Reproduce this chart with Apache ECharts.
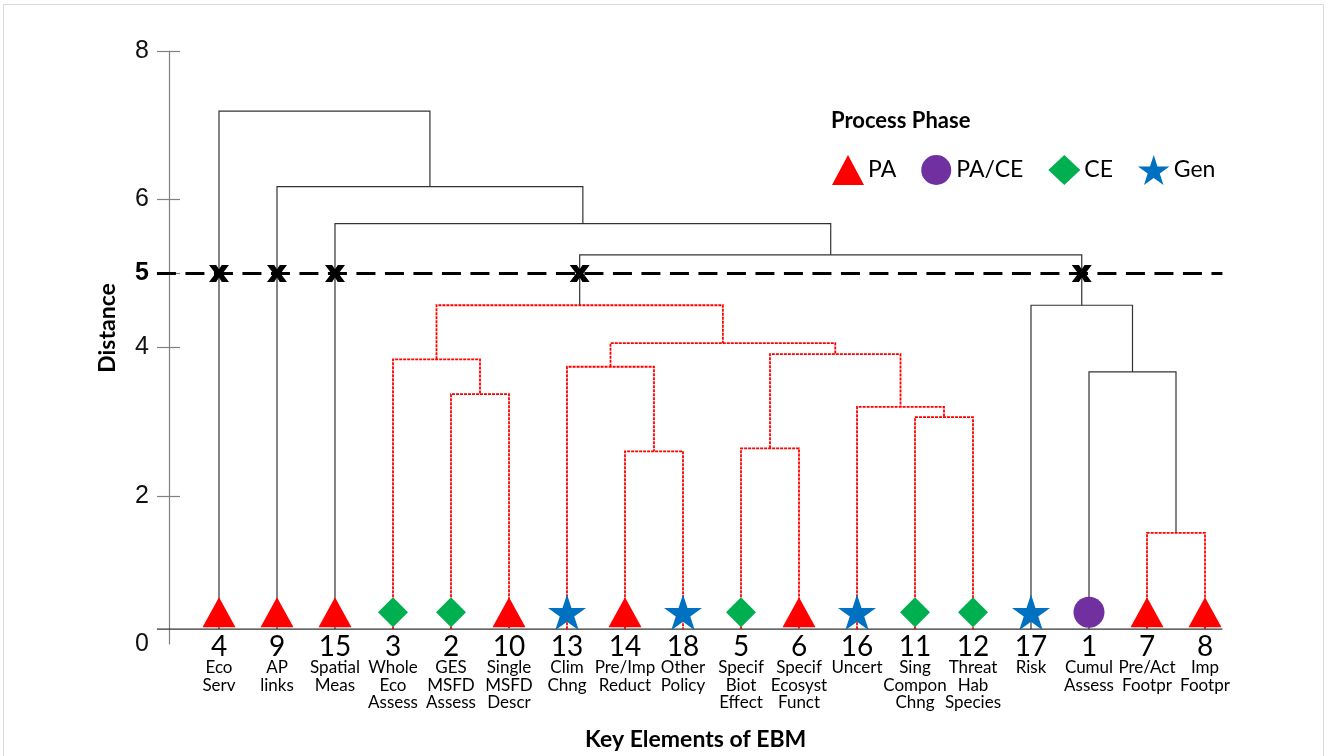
<!DOCTYPE html>
<html>
<head>
<meta charset="utf-8">
<script src="https://cdn.jsdelivr.net/npm/echarts@6/dist/echarts.min.js"></script>
<style>
  html, body { margin: 0; padding: 0; background: #fff; }
  #chart { width: 1328px; height: 756px; }
</style>
</head>
<body>
<div id="chart"></div>
<script>
// Leaves, left to right as they sit on the axis
const leafIds = [4, 9, 15, 3, 2, 10, 13, 14, 18, 5, 6, 16, 11, 12, 17, 1, 7, 8];
const leafNames = ['Eco\nServ', 'AP\nlinks', 'Spatial\nMeas', 'Whole\nEco\nAssess', 'GES\nMSFD\nAssess',
  'Single\nMSFD\nDescr', 'Clim\nChng', 'Pre/Imp\nReduct', 'Other\nPolicy', 'Specif\nBiot\nEffect',
  'Specif\nEcosyst\nFunct', 'Uncert', 'Sing\nCompon\nChng', 'Threat\nHab\nSpecies', 'Risk',
  'Cumul\nAssess', 'Pre/Act\nFootpr', 'Imp\nFootpr'];
const leafPhases = ['PA', 'PA', 'PA', 'CE', 'CE', 'PA', 'Gen', 'PA', 'Gen', 'CE', 'PA', 'Gen', 'CE', 'CE',
  'Gen', 'PA/CE', 'PA', 'PA'];

// Linkage table: children are leaf numbers or merge names
const mergeNames = ['A', 'B', 'C', 'D', 'E', 'F', 'G', 'H', 'I', 'J', 'K', 'L', 'M', 'N', 'O', 'P', 'Q'];
const mergeLeft = [7, 1, 17, 2, 3, 14, 13, 5, 11, 16, 'H', 'G', 'E', 'M', 15, 9, 4];
const mergeRight = [8, 'A', 'B', 10, 'D', 18, 'F', 6, 12, 'I', 'J', 'K', 'L', 'C', 'N', 'O', 'P'];
const mergeHeights = [1.50, 3.67, 4.57, 3.37, 3.84, 2.60, 3.74, 2.64, 3.06, 3.20, 3.91, 4.06, 4.57, 5.25, 5.67, 6.17, 7.19];
const mergeRed = [true, false, false, true, true, true, true, true, true, true, true, true, true, false, false, false, false];

const phases = ['PA', 'PA/CE', 'CE', 'Gen'];
const phaseColors = ['#ff0000', '#7030a0', '#00b050', '#0070c0'];
const starPath = 'path://M50,0 L61.2,34.5 L97.6,34.5 L68.2,55.9 L79.4,90.5 L50,69.1 L20.6,90.5 L31.8,55.9 L2.4,34.5 L38.8,34.5 Z';
const phaseSymbols = ['triangle', 'circle', 'diamond', starPath];
const phaseSizes = [[33, 30], 31, [30, 30], [38, 36]];

const leafHeight = 0.2;   // baseline the leaves hang from
const cutHeight = 5;
const yLabelValues = [0, 2, 4, 5, 6, 8];
const yTickValues = [2, 4, 5, 6, 8];
const xMin = 0.138, xMax = 18.3, xLeftEdge = -0.07;

// positions of every node
const nodes = {};
leafIds.forEach((id, i) => { nodes[id] = { x: i + 1, h: leafHeight }; });
mergeNames.forEach((name, i) => {
  const l = nodes[mergeLeft[i]], r = nodes[mergeRight[i]];
  nodes[name] = { x: (l.x + r.x) / 2, h: mergeHeights[i] };
});

const black = { color: '#333333', width: 1.2, opacity: 1 };
const red = { color: '#ff0000', width: 1.8, type: [3, 1], opacity: 1 };

const linkData = mergeNames.map((name, i) => {
  const l = nodes[mergeLeft[i]], r = nodes[mergeRight[i]], h = mergeHeights[i];
  return {
    coords: [[l.x, l.h], [l.x, h], [r.x, h], [r.x, r.h]],
    lineStyle: mergeRed[i] ? red : black
  };
});

// crossings of the cut line
const cutMarks = [];
mergeNames.forEach((name, i) => {
  [mergeLeft[i], mergeRight[i]].forEach(c => {
    if (nodes[c].h < cutHeight && mergeHeights[i] > cutHeight) cutMarks.push([nodes[c].x, cutHeight]);
  });
});

const markerSeries = phases.map((p, k) => ({
  name: p,
  type: 'scatter',
  symbol: phaseSymbols[k],
  symbolSize: phaseSizes[k],
  symbolOffset: [0, -17],
  itemStyle: { color: phaseColors[k], opacity: 1 },
  z: 5,
  data: leafIds.map((id, i) => leafPhases[i] === p ? [i + 1, leafHeight] : null).filter(d => d)
}));

const chart = echarts.init(document.getElementById('chart'));
const labelFont = 'Lato, "Open Sans", sans-serif';

chart.setOption({
  animation: false,
  backgroundColor: '#fff',
  grid: { left: 169, right: 105.6, top: 51, bottom: 112 },
  title: {
    text: 'Process Phase', left: 826, top: 105,
    textStyle: { fontFamily: labelFont, fontWeight: 'bold', fontSize: 22, color: '#000' }
  },
  legend: {
    data: phases, left: 827, top: 150, itemWidth: 32, itemHeight: 30, itemGap: 25,
    textStyle: { fontFamily: labelFont, fontSize: 23, color: '#000', padding: [0, 0, 0, -1] }
  },
  graphic: [
    {
      type: 'text', x: 108, y: 328, rotation: Math.PI / 2,
      style: { text: 'Distance', align: 'center', verticalAlign: 'middle',
        font: 'bold 23px Lato, "Open Sans", sans-serif', fill: '#000' }
    },
    {
      type: 'rect', silent: true, z: -1,
      shape: { x: 3.5, y: 4.5, width: 1320, height: 800 },
      style: { fill: 'none', stroke: '#d9d9d9', lineWidth: 1 }
    }
  ],
  xAxis: {
    type: 'value', min: xMin, max: xMax,
    name: 'Key Elements of EBM', nameLocation: 'middle', nameGap: 84,
    nameTextStyle: { fontFamily: labelFont, fontWeight: 'bold', fontSize: 23, color: '#000' },
    axisLine: { show: false }, axisTick: { show: false }, splitLine: { show: false },
    axisLabel: {
      customValues: leafIds.map((id, i) => i + 1),
      margin: -10,
      formatter: v => {
        const i = Math.round(v) - 1;
        return '{n|' + leafIds[i] + '}\n' + leafNames[i].split('\n').map(s => '{t|' + s + '}').join('\n');
      },
      rich: {
        n: { fontFamily: labelFont, fontSize: 28, lineHeight: 25, color: '#000' },
        t: { fontFamily: labelFont, fontSize: 17, lineHeight: 17.4, color: '#000' }
      }
    }
  },
  yAxis: [
    {
      type: 'value', min: 0, max: 8,
      axisLine: { show: true, lineStyle: { color: '#808080', width: 1.2 } },
      axisTick: { show: true, length: 12, customValues: yTickValues, lineStyle: { color: '#808080', width: 1.2 } },
      splitLine: { show: false },
      axisLabel: {
        customValues: yLabelValues, margin: 20,
        fontFamily: '"Liberation Sans", Arial, sans-serif', fontSize: 25, color: '#111',
        formatter: v => v === cutHeight ? '{b|' + v + '}' : String(v),
        rich: { b: { fontFamily: '"Liberation Sans", Arial, sans-serif', fontSize: 25, fontWeight: 'bold', color: '#000' } }
      }
    },
    {
      type: 'value', min: 0, max: 8, position: 'left',
      axisLine: { show: false }, splitLine: { show: false }, axisLabel: { show: false },
      axisTick: { show: true, inside: true, length: 11, customValues: yTickValues, lineStyle: { color: '#808080', width: 1.2 } }
    }
  ],
  series: [
    {
      type: 'lines', coordinateSystem: 'cartesian2d', polyline: true, clip: false, silent: true, z: 2,
      lineStyle: { opacity: 1 },
      data: [
        { coords: [[xLeftEdge, leafHeight], [xMax, leafHeight]], lineStyle: { color: '#333', width: 1.2, opacity: 1 } },
        ...linkData
      ]
    },
    {
      type: 'lines', coordinateSystem: 'cartesian2d', polyline: true, clip: false, silent: true, z: 3,
      data: [{ coords: [[xLeftEdge, cutHeight], [xMax, cutHeight]] }],
      lineStyle: { color: '#000', width: 3, type: [19, 9.5], opacity: 1 }
    },
    {
      type: 'scatter', z: 4, silent: true,
      symbol: 'path://M0,0 L3.6,0 L5,2.6 L6.4,0 L10,0 L6.8,5 L10,10 L6.4,10 L5,7.4 L3.6,10 L0,10 L3.2,5 Z',
      symbolSize: [20, 17],
      itemStyle: { color: '#000', opacity: 1 },
      data: cutMarks
    },
    ...markerSeries
  ]
});
</script>
</body>
</html>
